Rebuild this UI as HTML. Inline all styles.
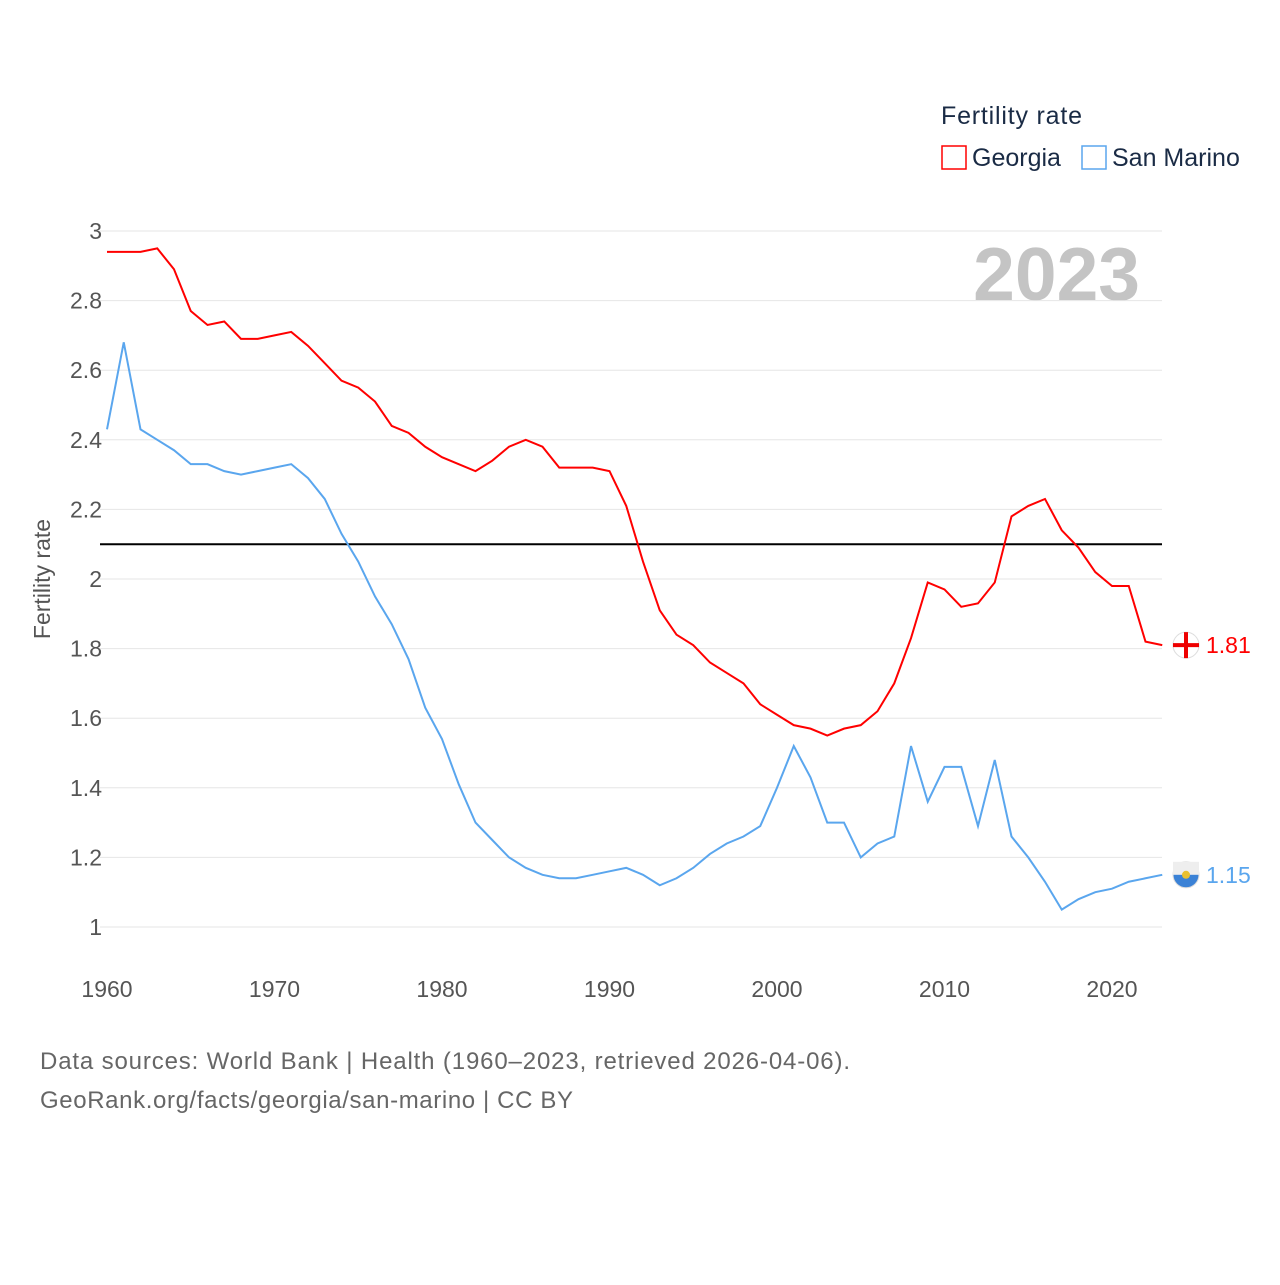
<!DOCTYPE html>
<html><head><meta charset="utf-8"><style>
body{margin:0;background:#fff;font-family:"Liberation Sans",sans-serif}
svg text{font-family:"Liberation Sans",sans-serif}
</style></head><body>
<svg width="1280" height="1280" id="chart">
<text x="941" y="124" font-size="25" fill="#1a2b45" textLength="141">Fertility rate</text>
<g><rect x="942" y="146" width="24" height="23" fill="none" stroke="#f00" stroke-width="1.5"/><text x="972" y="166" font-size="25" fill="#1a2b45">Georgia</text></g>
<g><rect x="1082" y="146" width="24" height="23" fill="none" stroke="#5aa6ee" stroke-width="1.5"/><text x="1112" y="166" font-size="25" fill="#1a2b45">San Marino</text></g>
<text x="1140" y="300" font-size="75" font-weight="bold" fill="#c4c4c4" text-anchor="end">2023</text>
<text transform="translate(50,579) rotate(-90)" font-size="23" fill="#555" text-anchor="middle">Fertility rate</text>
<g id="grid"></g><g id="lines"></g>
<text x="40" y="1069" font-size="24" fill="#666" textLength="810">Data sources: World Bank | Health (1960–2023, retrieved 2026-04-06).</text>
<text x="40" y="1108" font-size="24" fill="#666" textLength="533">GeoRank.org/facts/georgia/san-marino | CC BY</text>
</svg>
<script>
const years=[];for(let y=1960;y<=2023;y++)years.push(y);
const georgia=[2.94,2.94,2.94,2.95,2.89,2.77,2.73,2.74,2.69,2.69,2.70,2.71,2.67,2.62,2.57,2.55,2.51,2.44,2.42,2.38,2.35,2.33,2.31,2.34,2.38,2.40,2.38,2.32,2.32,2.32,2.31,2.21,2.05,1.91,1.84,1.81,1.76,1.73,1.70,1.64,1.61,1.58,1.57,1.55,1.57,1.58,1.62,1.70,1.83,1.99,1.97,1.92,1.93,1.99,2.18,2.21,2.23,2.14,2.09,2.02,1.98,1.98,1.82,1.81];
const sanMarino=[2.43,2.68,2.43,2.40,2.37,2.33,2.33,2.31,2.30,2.31,2.32,2.33,2.29,2.23,2.13,2.05,1.95,1.87,1.77,1.63,1.54,1.41,1.30,1.25,1.20,1.17,1.15,1.14,1.14,1.15,1.16,1.17,1.15,1.12,1.14,1.17,1.21,1.24,1.26,1.29,1.40,1.52,1.43,1.30,1.30,1.20,1.24,1.26,1.52,1.36,1.46,1.46,1.29,1.48,1.26,1.20,1.13,1.05,1.08,1.10,1.11,1.13,1.14,1.15];
const yTicks=[1,1.2,1.4,1.6,1.8,2,2.2,2.4,2.6,2.8,3];
const xTicks=[1960,1970,1980,1990,2000,2010,2020];
const refLine=[2.1];
const X=y=>107+(y-1960)*16.75, Y=v=>927-(v-1)*348;
const NS="http://www.w3.org/2000/svg";
function mk(p,t,a){const e=document.createElementNS(NS,t);for(const k in a)e.setAttribute(k,a[k]);p.appendChild(e);return e;}
const g=document.getElementById('grid'),L=document.getElementById('lines');
yTicks.forEach(v=>{const l=mk(g,'line',{x1:100,x2:1162,y1:Y(v),y2:Y(v),stroke:'#e6e6e6','stroke-width':1});


const t=mk(g,'text',{x:102,y:Y(v)+8,'font-size':23,fill:'#555','text-anchor':'end'});t.textContent=String(v);

});
xTicks.forEach(v=>{const t=mk(g,'text',{x:X(v),y:997,'font-size':23,fill:'#555','text-anchor':'middle'});t.textContent=v;

});
refLine.forEach(v=>{const l=mk(g,'line',{x1:100,x2:1162,y1:Y(v),y2:Y(v),stroke:'#000','stroke-width':2});

});
function series(vals,col,name){
const p=mk(L,'polyline',{points:vals.map((v,i)=>X(years[i])+','+Y(v)).join(' '),fill:'none',stroke:col,'stroke-width':2});


const last=vals[vals.length-1],cy=Y(last);
const c=mk(L,'circle',{cx:1186,cy:cy,r:13,fill:name==='georgia'?'#fff':'#3b82d6',stroke:'#ddd'});


if(name==='georgia'){mk(L,'rect',{x:1173,y:cy-2,width:26,height:4,fill:'#e00'});mk(L,'rect',{x:1184,y:cy-13,width:4,height:26,fill:'#e00'});}
else{mk(L,'rect',{x:1173,y:cy-13,width:26,height:13,fill:'#eee'});mk(L,'circle',{cx:1186,cy:cy,r:4,fill:'#e8c030'});}
const t=mk(L,'text',{x:1206,y:cy+8,'font-size':23,fill:col});t.textContent=last.toFixed(2);

}
series(georgia,'#f00','georgia');
series(sanMarino,'#5aa6ee','san-marino');
</script>
</body></html>
